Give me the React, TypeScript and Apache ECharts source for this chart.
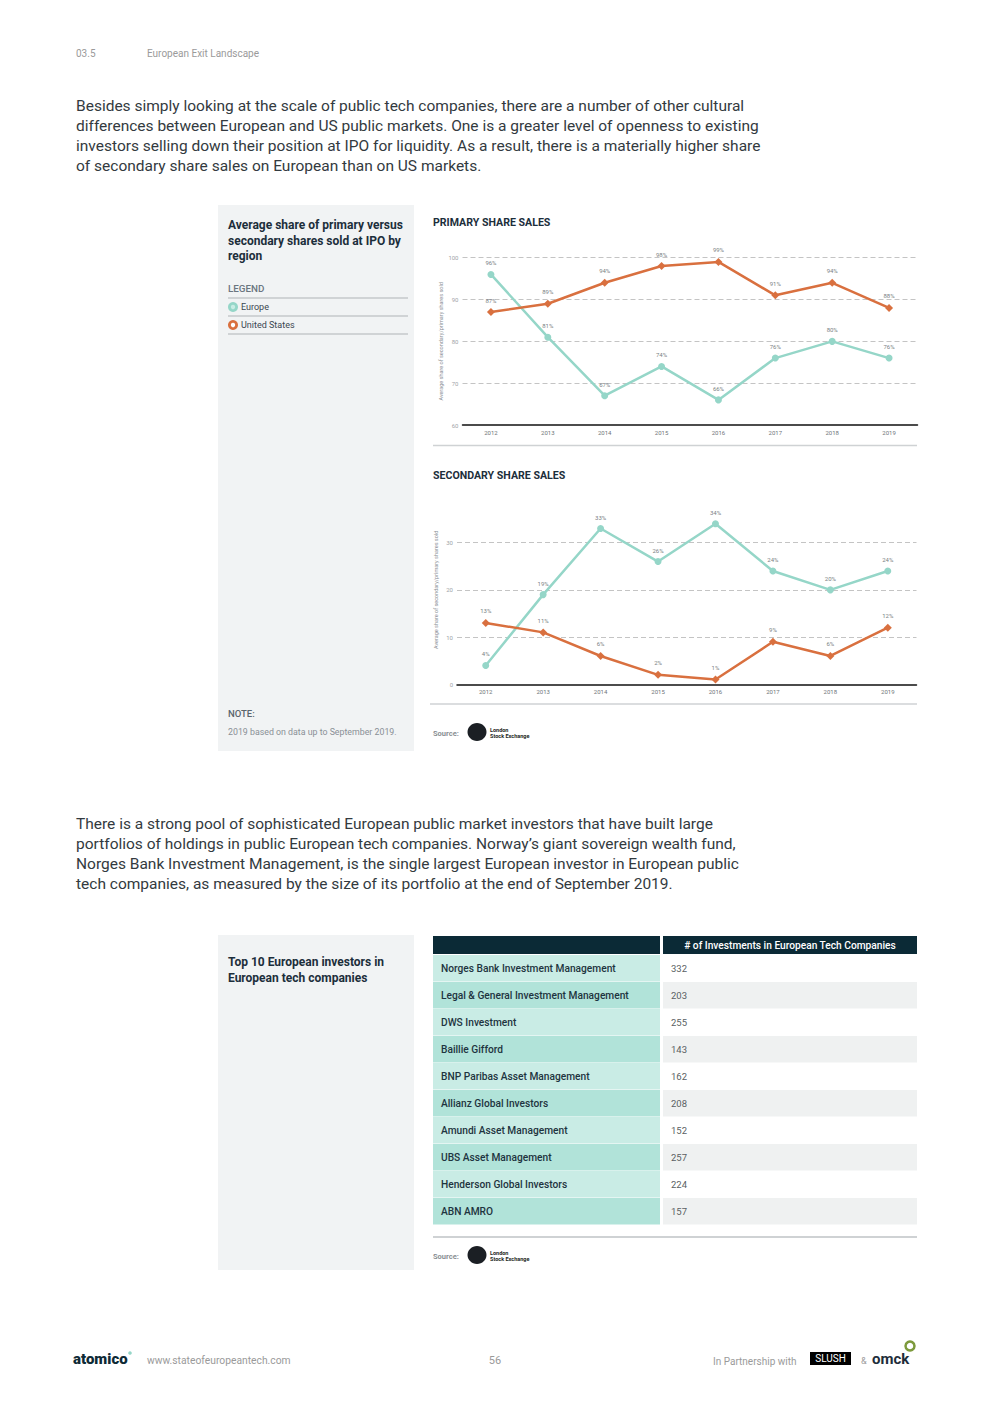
import React, { useEffect, useRef } from "react";
import * as echarts from "echarts";

const years = ["2012", "2013", "2014", "2015", "2016", "2017", "2018", "2019"];
const primaryEurope = [96, 81, 67, 74, 66, 76, 80, 76];
const primaryUS = [87, 89, 94, 98, 99, 91, 94, 88];
const secondaryEurope = [4, 19, 33, 26, 34, 24, 20, 24];
const secondaryUS = [13, 11, 6, 2, 1, 9, 6, 12];

const investors = [
  "Norges Bank Investment Management",
  "Legal & General Investment Management",
  "DWS Investment",
  "Baillie Gifford",
  "BNP Paribas Asset Management",
  "Allianz Global Investors",
  "Amundi Asset Management",
  "UBS Asset Management",
  "Henderson Global Investors",
  "ABN AMRO",
];
const investmentCounts = [332, 203, 255, 143, 162, 208, 152, 257, 224, 157];

const para1 = [
  "Besides simply looking at the scale of public tech companies, there are a number of other cultural",
  "differences between European and US public markets. One is a greater level of openness to existing",
  "investors selling down their position at IPO for liquidity. As a result, there is a materially higher share",
  "of secondary share sales on European than on US markets.",
];
const para2 = [
  "There is a strong pool of sophisticated European public market investors that have built large",
  "portfolios of holdings in public European tech companies. Norway\u2019s giant sovereign wealth fund,",
  "Norges Bank Investment Management, is the single largest European investor in European public",
  "tech companies, as measured by the size of its portfolio at the end of September 2019.",
];

const F = "Roboto, 'Noto Sans', sans-serif";
const TEAL = "#95d6c8";
const ORANGE = "#d9703f";
const NAVY = "#1c2e3b";

function T(text: string, x: number, y: number, size: number, color: string, weight: any = "normal", align: any = "left") {
  return {
    type: "text",
    x,
    y,
    silent: true,
    style: { text, fontSize: size, fill: color, fontWeight: weight, fontFamily: F, align, verticalAlign: "middle" },
  };
}
function R(x: number, y: number, w: number, h: number, fill: string) {
  return { type: "rect", silent: true, shape: { x, y, width: w, height: h }, style: { fill } };
}
function L(x1: number, y1: number, x2: number, y2: number, stroke: string, lw: number) {
  return { type: "line", silent: true, shape: { x1, y1, x2, y2 }, style: { stroke, lineWidth: lw } };
}

function buildGraphics() {
  const g: any[] = [];
  // header
  g.push(T("03.5", 76, 53, 10, "#9a9a9a"));
  g.push(T("European Exit Landscape", 147, 53, 10, "#9a9a9a"));
  para1.forEach((s, i) => g.push(T(s, 76, 106 + i * 20, 15.5, "#333a40")));
  para2.forEach((s, i) => g.push(T(s, 76, 824 + i * 20, 15.5, "#333a40")));

  // left panel 1
  g.push(R(218, 205, 196, 546, "#f1f3f4"));
  ["Average share of primary versus", "secondary shares sold at IPO by", "region"].forEach((s, i) =>
    g.push(T(s, 228, 225 + i * 15.5, 12, NAVY, "bold"))
  );
  g.push(T("LEGEND", 228, 288, 9.8, "#6b7680", 500));
  g.push(L(228, 298, 408, 298, "#c4c8cb", 1.5));
  g.push({ type: "circle", silent: true, shape: { cx: 233, cy: 307, r: 5 }, style: { fill: TEAL } });
  g.push({ type: "circle", silent: true, shape: { cx: 233, cy: 307, r: 2.2 }, style: { fill: "#c8ece4" } });
  g.push(T("Europe", 241, 307, 9, "#3a4650"));
  g.push(L(228, 316, 408, 316, "#c4c8cb", 1.5));
  g.push({ type: "circle", silent: true, shape: { cx: 233, cy: 325, r: 5 }, style: { fill: ORANGE } });
  g.push({ type: "circle", silent: true, shape: { cx: 233, cy: 325, r: 2.2 }, style: { fill: "#ffffff" } });
  g.push(T("United States", 241, 325, 9, "#3a4650"));
  g.push(L(228, 334, 408, 334, "#c4c8cb", 1.5));
  g.push(T("NOTE:", 228, 713, 9.5, "#5a646c", 500));
  g.push(T("2019 based on data up to September 2019.", 228, 732, 8.8, "#8a9096"));

  // chart titles and separators
  g.push(T("PRIMARY SHARE SALES", 433, 222, 10.6, NAVY, "bold"));
  g.push(L(433, 445.5, 917, 445.5, "#cfd2d4", 1.5));
  g.push(T("SECONDARY SHARE SALES", 433, 475, 10.6, NAVY, "bold"));
  g.push(L(430, 704, 917, 704, "#cfd2d4", 1.5));

  const source = (y: number) => {
    g.push(T("Source:", 433, y, 7.5, "#8a8f93", "bold"));
    g.push({ type: "ellipse", silent: true, shape: { cx: 477, cy: y - 1, rx: 9.5, ry: 9 }, style: { fill: "#1b1f24" } });
    g.push(T("London", 490, y - 3.5, 5.5, "#1b1f24", "bold"));
    g.push(T("Stock Exchange", 490, y + 2.5, 5.5, "#1b1f24", "bold"));
  };
  source(733);

  // left panel 2
  g.push(R(218, 935, 196, 335, "#f1f3f4"));
  ["Top 10 European investors in", "European tech companies"].forEach((s, i) =>
    g.push(T(s, 228, 962 + i * 16, 12, NAVY, "bold"))
  );

  // table
  g.push(R(433, 936, 227, 18, "#0b2a36"));
  g.push(R(663, 936, 254, 18, "#0b2a36"));
  g.push(T("# of Investments in European Tech Companies", 790, 945.5, 10.2, "#ffffff", 500, "center"));
  investors.forEach((name, i) => {
    const y0 = 955 + i * 27;
    const odd = i % 2 === 0;
    g.push(R(433, y0, 227, 26.5, odd ? "#c9ece5" : "#b1e3d9"));
    g.push(R(663, y0, 254, 26.5, odd ? "#ffffff" : "#eff1f1"));
    g.push(T(name, 441, y0 + 13.5, 10.2, "#1e3440", 500));
    g.push(T(String(investmentCounts[i]), 671, y0 + 13.5, 9.5, "#5a5f63"));
  });
  g.push(L(433, 1237, 917, 1237, "#cfd2d4", 2));
  source(1256);

  // footer
  g.push(T("atomico", 73, 1359, 15, "#0e2a36", 900));
  g.push({ type: "circle", silent: true, shape: { cx: 130, cy: 1353, r: 1.8 }, style: { fill: TEAL } });
  g.push(T("www.stateofeuropeantech.com", 147, 1360, 10.3, "#9a9a9a"));
  g.push(T("56", 495, 1360, 11, "#9a9a9a", "normal", "center"));
  g.push(T("In Partnership with", 713, 1361, 10, "#9a9a9a"));
  g.push(R(810, 1352, 41, 13, "#000000"));
  g.push(T("SLUSH", 830.5, 1358.5, 10, "#ffffff", "normal", "center"));
  g.push(T("&", 861, 1361, 9, "#9a9a9a"));
  g.push(T("omck", 872, 1359, 15, "#1e2d3a", "bold"));
  g.push({ type: "circle", silent: true, shape: { cx: 910, cy: 1346, r: 4.5 }, style: { fill: "none", stroke: "#7d9a3c", lineWidth: 2.5 } });
  return g;
}

function lineSeries(name: string, data: number[], color: string, symbol: string, size: number, axis: number) {
  return {
    name,
    type: "line",
    xAxisIndex: axis,
    yAxisIndex: axis,
    data,
    symbol,
    symbolSize: size,
    z: 3,
    lineStyle: { color, width: 2.5 },
    itemStyle: { color },
    label: {
      show: true,
      position: "top",
      distance: 5,
      formatter: "{c}%",
      fontSize: 6,
      color: "#7a7f84",
      fontFamily: F,
    },
  };
}

function App() {
  const ref = useRef<HTMLDivElement>(null);
  useEffect(() => {
    if (!ref.current) return;
    const chart = echarts.init(ref.current, null, { renderer: "svg" });
    const xAxisBase = (grid: number) => ({
      type: "category",
      gridIndex: grid,
      data: years,
      boundaryGap: true,
      axisLine: { lineStyle: { color: "#111111", width: 1.5 } },
      axisTick: { show: false },
      axisLabel: { fontSize: 6, color: "#6f757a", margin: 4, fontFamily: F },
    });
    const yAxisBase = (grid: number, min: number, max: number, showMax: boolean) => ({
      type: "value",
      gridIndex: grid,
      min,
      max,
      interval: 10,
      name: "Average share of secondary/primary shares sold",
      nameLocation: "middle",
      nameGap: 18,
      nameTextStyle: { fontSize: 5.5, color: "#8a9096", fontFamily: F },
      axisLine: { show: false },
      axisTick: { show: false },
      axisLabel: { fontSize: 6, color: "#a0a4a8", margin: 4, fontFamily: F, showMaxLabel: showMax },
      splitLine: {
        show: true,
        showMinLine: false,
        showMaxLine: showMax,
        lineStyle: { color: "#c4c4c4", width: 1, type: [5, 3] },
      },
    });
    chart.setOption({
      animation: false,
      backgroundColor: "#ffffff",
      grid: [
        { left: 462.5, top: 257.7, width: 455, height: 167.3 },
        { left: 457, top: 495.5, width: 459.5, height: 188.8 },
      ],
      xAxis: [xAxisBase(0), xAxisBase(1)],
      yAxis: [yAxisBase(0, 60, 100, true), yAxisBase(1, 0, 40, false)],
      series: [
        lineSeries("Europe", primaryEurope, TEAL, "circle", 7, 0),
        lineSeries("United States", primaryUS, ORANGE, "diamond", 8, 0),
        lineSeries("Europe", secondaryEurope, TEAL, "circle", 7, 1),
        lineSeries("United States", secondaryUS, ORANGE, "diamond", 8, 1),
      ],
      graphic: { elements: buildGraphics() },
    });
    return () => chart.dispose();
  }, []);
  return (
    <div
      ref={ref}
      style={{ position: "absolute", left: 0, top: 0, width: 992, height: 1403, background: "#ffffff" }}
    />
  );
}

export default App;
